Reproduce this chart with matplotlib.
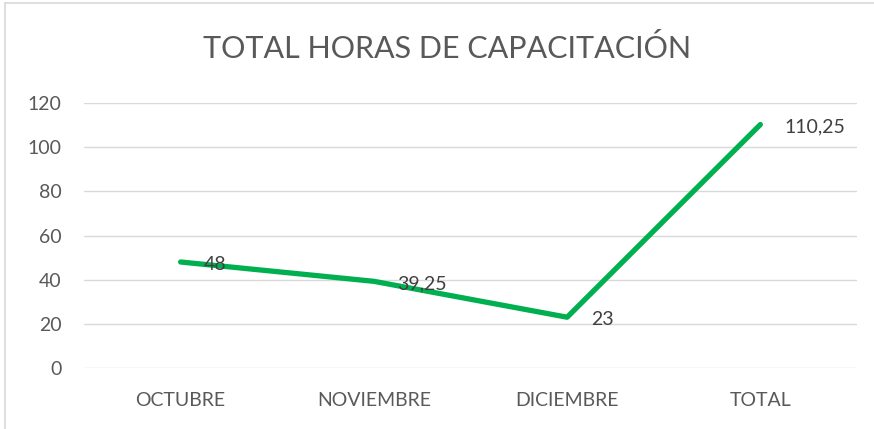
import matplotlib.pyplot as plt
from matplotlib.lines import Line2D

# ── Data ─────────────────────────────────────────────
categories = ["OCTUBRE", "NOVIEMBRE", "DICIEMBRE", "TOTAL"]
horas = [48, 39.25, 23, 110.25]
etiquetas = ["48", "39,25", "23", "110,25"]
y_ticks = [0, 20, 40, 60, 80, 100, 120]

GREEN = "#00B050"
GREY_TXT = "#595959"
GRID = "#D9D9D9"

plt.rcParams['font.family'] = ['Lato', 'DejaVu Sans']

fig = plt.figure(figsize=(8.74, 4.29), dpi=100)
W, H = 874, 429
ax = fig.add_axes([84 / W, 1 - 368 / H, (857 - 84) / W, (368 - 103) / H])

x = list(range(len(categories)))
ax.plot(x, horas, color=GREEN, linewidth=3.8, solid_capstyle='round', zorder=3)

for xi, yi, lab in zip(x, horas, etiquetas):
    ax.annotate(lab, (xi, yi), xytext=(17, -2), textcoords='offset points',
                ha='left', va='center', fontsize=14, color="#404040", zorder=4)

ax.set_xlim(-0.5, len(categories) - 0.5)
ax.set_ylim(0, 120)
ax.set_yticks(y_ticks)
ax.set_xticks(x)
ax.set_xticklabels(categories)
ax.grid(axis='y', color=GRID, linewidth=1)
ax.set_axisbelow(True)
for s in ax.spines.values():
    s.set_visible(False)
ax.tick_params(length=0, labelsize=14, colors=GREY_TXT)
ax.tick_params(axis='x', pad=17)
ax.tick_params(axis='y', pad=16)

fig.text(447 / W, 1 - 48 / H, "TOTAL HORAS DE CAPACITACIÓN", ha='center', va='center',
         fontsize=22, color=GREY_TXT)

# chart frame (left and top edges visible)
fig.add_artist(Line2D([5 / W, 5 / W], [0, 1 - 3 / H], color=GRID, linewidth=1.2))
fig.add_artist(Line2D([5 / W, 1], [1 - 3 / H, 1 - 3 / H], color=GRID, linewidth=1.2))

fig.savefig("out.png", dpi=100)
